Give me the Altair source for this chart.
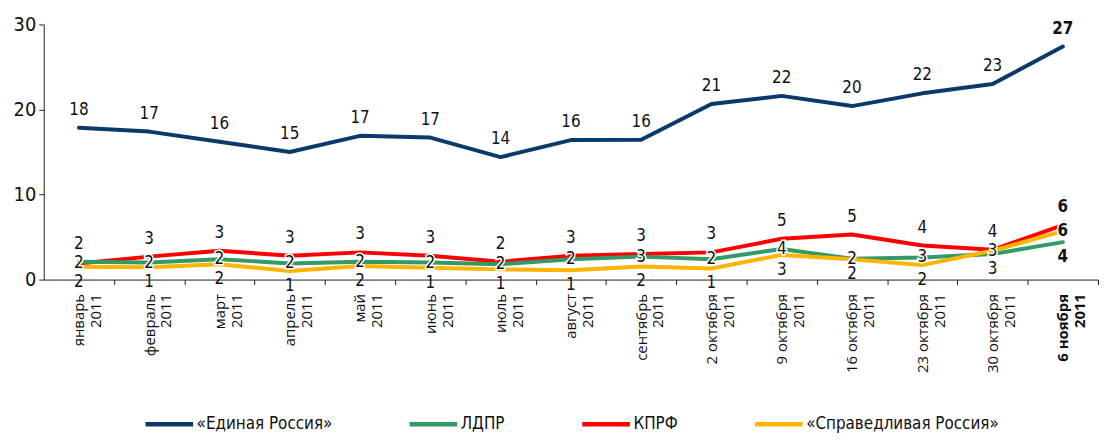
import altair as alt
import pandas as pd

categories = ["январь\n2011", "февраль\n2011", "март\n2011", "апрель\n2011", "май\n2011",
              "июнь\n2011", "июль\n2011", "август\n2011", "сентябрь\n2011", "2 октября\n2011",
              "9 октября\n2011", "16 октября\n2011", "23 октября\n2011", "30 октября\n2011",
              "6 ноября\n2011"]
series_names = ["«Единая Россия»", "ЛДПР", "КПРФ", "«Справедливая Россия»"]
colors = ["#0b3a6a", "#339966", "#ff0000", "#ffb400"]

er = [17.85, 17.4, 16.2, 15.0, 16.9, 16.7, 14.4, 16.4, 16.45, 20.65, 21.6, 20.4, 21.9, 23.0, 27.4]
ldpr = [2.1, 2.0, 2.4, 1.9, 2.1, 2.0, 1.8, 2.4, 2.7, 2.4, 3.6, 2.45, 2.6, 3.0, 4.4]
kprf = [1.9, 2.7, 3.4, 2.8, 3.2, 2.8, 2.1, 2.8, 3.0, 3.2, 4.8, 5.3, 4.0, 3.5, 6.4]
sr = [1.5, 1.45, 1.8, 1.0, 1.6, 1.4, 1.2, 1.1, 1.55, 1.3, 2.9, 2.4, 1.7, 3.4, 5.7]

values = {series_names[0]: er, series_names[1]: ldpr, series_names[2]: kprf, series_names[3]: sr}

rows = []
for i, cat in enumerate(categories):
    small = sorted(series_names[1:], key=lambda s: -values[s][i])
    rank = {s: r for r, s in enumerate(small)}
    for s in series_names:
        v = values[s][i]
        pos = "er" if s == series_names[0] else ["top", "mid", "bot"][rank[s]]
        rows.append({"cat": cat, "series": s, "value": v,
                     "label": str(int(v + 0.5)), "pos": pos,
                     "last": "y" if i == len(categories) - 1 else "n"})
df = pd.DataFrame(rows)

W, H = 1062, 257
NARROW = "Liberation Sans Narrow, DejaVu Sans Condensed, sans-serif"
half_step = W / len(categories) / 2

x_enc = alt.X("cat:N", sort=categories,
              axis=alt.Axis(title=None, labelAngle=-90, labelAlign="right",
                            labelBaseline="middle",
                            labelExpr="split(datum.label, '\\n')", labelFont="Open Sans",
                            labelFontSize=15, labelColor="#111", labelPadding=9,
                            labelFontWeight={"condition": {"test": "indexof(datum.value, 'ноября') >= 0", "value": "bold"}, "value": "normal"},
                            tickSize=5, tickColor="#222", domainColor="#222",
                            tickOffset=half_step, labelOffset=-half_step,
                            labelLineHeight=17, labelLimit=200))
y_enc = alt.Y("value:Q", scale=alt.Scale(domain=[0, 30], nice=False),
              axis=alt.Axis(title=None, values=[0, 10, 20, 30], grid=False, labelFont=NARROW,
                            labelFontSize=20, labelColor="#111", tickSize=5, tickColor="#222",
                            domainColor="#222", labelPadding=3))
color_enc = alt.Color("series:N", scale=alt.Scale(domain=series_names, range=colors),
                      legend=alt.Legend(title=None, orient="none", direction="horizontal",
                                        legendX=116, legendY=392, symbolType="M-3,0L3,0",
                                        symbolStrokeWidth=4.5, symbolSize=256, labelFont=NARROW,
                                        labelFontSize=17, labelColor="#111", columnPadding=68,
                                        labelOffset=17, labelLimit=300))

base = alt.Chart(df)
lines = []
for s in [series_names[0], series_names[2], series_names[1], series_names[3]]:
    lines.append(base.transform_filter(alt.datum.series == s)
                 .mark_line(strokeWidth=4, strokeCap="round", strokeJoin="round")
                 .encode(x=x_enc, y=y_enc, color=color_enc))


def text_layers(pos, dy, halo=False):
    out = []
    for is_last in ("n", "y"):
        kw = dict(dy=dy, font=NARROW, fontSize=17, baseline="middle", align="center",
                  fontWeight="bold" if is_last == "y" else "normal")
        filt = base.transform_filter((alt.datum.pos == pos) & (alt.datum.last == is_last))
        if halo:
            m = filt.mark_text(stroke="white", strokeWidth=3, fill="white", **kw)
        else:
            m = filt.mark_text(color="#111", **kw)
        out.append(m.encode(x=x_enc, y=y_enc, text="label:N"))
    return out

texts = (text_layers("er", -18) + text_layers("top", -18) + text_layers("mid", 0, halo=True)
         + text_layers("mid", 0) + text_layers("bot", 15))

chart = alt.layer(*lines, *texts).properties(
    width=W, height=H,
    padding={"left": 5, "top": 5, "right": 0, "bottom": 0},
).configure_view(stroke=None)

chart.save("out.html", embed_options={"renderer": "svg", "actions": False})
